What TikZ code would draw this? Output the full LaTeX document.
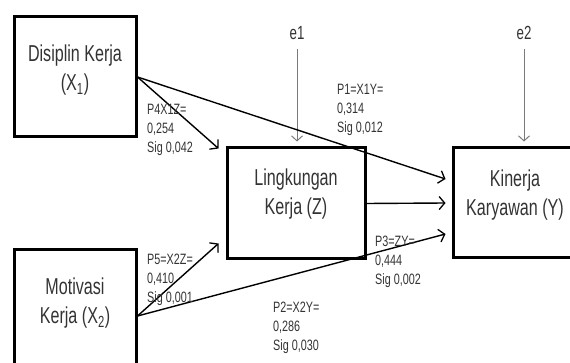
\documentclass[tikz,border=0pt]{standalone}
\usepackage{fontspec}
\newfontfamily\diagfont[FakeStretch=0.7]{Liberation Sans}
\newfontfamily\coeffont[FakeStretch=0.72]{Liberation Sans}
\usetikzlibrary{arrows.meta}
\usetikzlibrary{positioning}
\usepackage{xcolor}
\definecolor{inkgrey}{HTML}{333333}
\definecolor{errgrey}{HTML}{7A7A7A}

\begin{document}
\begin{tikzpicture}[
        x=1pt, y=-1pt,
        varbox/.style={draw=black, line width=3pt, inner sep=0pt},
        vartext/.style={font=\diagfont\fontsize{23}{29}\selectfont, text=inkgrey, align=center, inner sep=0pt},
        coef/.style={font=\coeffont\fontsize{15}{19}\selectfont, text=inkgrey, align=left, inner sep=0pt, anchor=north west},
        errlbl/.style={font=\diagfont\fontsize{19}{20}\selectfont, text=inkgrey, inner sep=0pt},
        path/.style={line width=1.4pt, -{Straight Barb[length=5.5pt, width=13pt, line width=1.3pt]}},
        errpath/.style={line width=1pt, draw=errgrey, -{Straight Barb[length=5pt, width=11pt, line width=1pt]}},
      ]
      \useasboundingbox (0,0) rectangle (570,363);

      % === Variables ===
      \node[varbox, minimum width=122pt, minimum height=120pt] (x1) at (75,77) {};
      \node[varbox, minimum width=122pt, minimum height=130pt] (x2) at (75,315) {};
      \node[varbox, minimum width=138pt, minimum height=111pt] (z) at (296,203.5) {};
      \node[varbox, minimum width=127pt, minimum height=110pt] (y) at (516.5,203) {};

      \node[vartext] (x1t) at ([yshift=7pt]x1.center) {Disiplin Kerja\\(X\textsubscript{1})};
      \node[vartext] (x2t) at ([yshift=12pt]x2.center) {Motivasi\\Kerja (X\textsubscript{2})};
      \node[vartext] (zt) at ([yshift=9pt]z.center) {Lingkungan\\Kerja (Z)};
      \node[vartext] (yt) at ([xshift=-1.5pt, yshift=8pt]y.center) {Kinerja\\Karyawan (Y)};

      % === Residuals ===
      \node[errlbl] (e1) at (297,33) {e1};
      \node[errlbl] (e2) at (524,33) {e2};
      \draw[errpath, shorten <=9pt, shorten >=5pt] (e1.south) -- (e1.south |- z.north);
      \draw[errpath, shorten <=9pt, shorten >=5pt] (e2.south) -- (e2.south |- y.north);

      % === Paths ===
      \draw[path] (x1.east) -- ([xshift=-7pt, yshift=-2pt]z.north west);
      \draw[path] (x1.east) -- ([xshift=-6pt, yshift=24pt]y.west);
      \draw[path] (z.east) -- ([xshift=-6pt]y.west);
      \draw[path] ([yshift=-1pt]x2.east) -- ([xshift=-7pt, yshift=17pt]z.south west);
      \draw[path] ([yshift=-1pt]x2.east) -- ([xshift=-6pt, yshift=-31pt]y.west);

      % === Coefficients ===
      \node[coef] (p4) at (147,104) {P4X1Z=\\0,254\\Sig 0,042};
      \node[coef] (p1) at (337,84) {P1=X1Y=\\0,314\\Sig 0,012};
      \node[coef] (p5) at (147,254) {P5=X2Z=\\0,410\\Sig 0,001};
      \node[coef] (p2) at (273,302) {P2=X2Y=\\0,286\\Sig 0,030};
      \node[coef] (p3) at (375,236) {P3=ZY=\\0,444\\Sig 0,002};

      \end{tikzpicture}
\end{document}
